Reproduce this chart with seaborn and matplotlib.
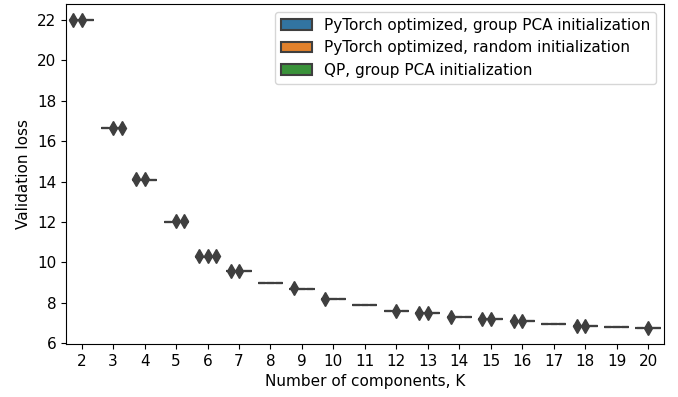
import numpy as np
import pandas as pd
import matplotlib
matplotlib.use("Agg")
import matplotlib.pyplot as plt
import seaborn as sns

# Components K and the (near-constant) validation loss for each K
ks = list(range(2, 21))
base_loss = [22.0, 16.65, 14.1, 12.02, 10.28, 9.55, 8.95, 8.7, 8.18,
             7.9, 7.6, 7.47, 7.3, 7.18, 7.08, 6.95, 6.83, 6.78, 6.72]

methods = ["PyTorch optimized, group PCA initialization",
           "PyTorch optimized, random initialization",
           "QP, group PCA initialization"]

# Which method shows a deviating run (flier) for each K (1 = yes)
flier_pca = [1, 0, 1, 0, 1, 1, 0, 1, 1, 0, 0, 1, 1, 1, 1, 0, 1, 0, 0]
flier_rand = [1, 1, 1, 1, 1, 1, 0, 0, 0, 0, 1, 1, 0, 1, 1, 0, 1, 0, 1]
flier_qp = [0, 1, 0, 1, 1, 0, 0, 0, 0, 0, 0, 0, 0, 0, 0, 0, 0, 0, 0]
flier_delta = 0.01
n_runs = 8

rows = []
for i, k in enumerate(ks):
    for m, flags in zip(methods, [flier_pca, flier_rand, flier_qp]):
        vals = [base_loss[i]] * n_runs
        if flags[i]:
            vals[-1] = base_loss[i] + flier_delta
        for v in vals:
            rows.append({"K": k, "loss": v, "method": m})
df = pd.DataFrame(rows)

fig = plt.figure(figsize=(6.78, 3.97), dpi=100)
ax = fig.add_axes([0.0973, 0.1335, 0.8817, 0.8565])
dark = "#3f3f3f"
sns.boxplot(data=df, x="K", y="loss", hue="method", ax=ax,
            linecolor=dark, linewidth=1.5,
            flierprops=dict(marker="d", markerfacecolor=dark,
                            markeredgecolor=dark, markersize=7))
ax.set_xlabel("Number of components, K", fontsize=11)
ax.set_ylabel("Validation loss", fontsize=11)
ax.tick_params(labelsize=11)
ax.set_ylim(5.95, 22.8)
ax.legend(loc="upper right", fontsize=11)
fig.savefig("out.png", dpi=100)
